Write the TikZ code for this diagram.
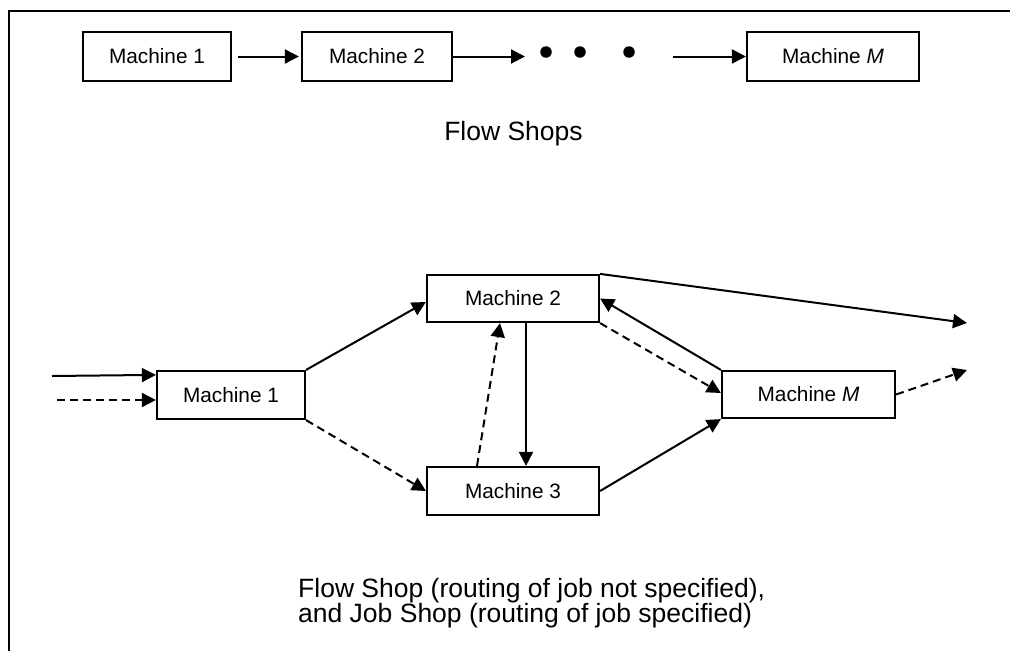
\documentclass[tikz,border=0pt]{standalone}
\usepackage{fontspec}
\setmainfont{Liberation Sans}
\usetikzlibrary{arrows.meta}

\tikzset{
  machine/.style={draw, line width=2.2pt, inner sep=0pt, fill=white,
    font=\fontsize{20.8}{24}\selectfont},
  flow/.style={line width=2pt, -{Triangle[length=14pt 0 0,width=14pt 0 0]}},
  altflow/.style={flow, dash pattern=on 8pt off 5pt},
  caption/.style={inner sep=0pt, font=\fontsize{26.5}{25}\selectfont},
  dotmark/.style={circle, fill=black, inner sep=0pt, minimum size=11.5pt},
  frameline/.style={line width=2.2pt}
}

\begin{document}
\begin{tikzpicture}[x=1pt, y=-1pt]
  \useasboundingbox (0,0) rectangle (1010,651);

  % outer frame (left and top edges)
  \draw[frameline] (9,651) -- (9,11) -- (1010,11);

  % ---- flow shop: machines in series ----
  \node[machine, minimum width=148pt, minimum height=49pt] (t1) at (157,56.5) {Machine 1};
  \node[machine, minimum width=150pt, minimum height=49pt] (t2) at (377,56.5) {Machine 2};
  \node[machine, minimum width=172pt, minimum height=49pt] (tM) at (833,56.5) {Machine \textit{M}};

  \node[dotmark] (d1) at (546,52) {};
  \node[dotmark] (d2) at (580,52) {};
  \node[dotmark] (d3) at (629,52) {};

  \coordinate (dotsIn) at (525,56.5);
  \coordinate (dotsOut) at (673,56.5);

  \draw[flow, shorten >=2pt] ([xshift=6pt]t1.east) -- (t2.west);
  \draw[flow] (t2.east) -- (dotsIn);
  \draw[flow] (dotsOut) -- (tM.west);

  \node[caption, anchor=base] (cap1) at (513.5,140) {Flow Shops};

  % ---- job shop: general routing ----
  \node[machine, minimum width=148pt, minimum height=48pt] (m1) at (231,395) {Machine 1};
  \node[machine, minimum width=172pt, minimum height=47pt] (m2) at (513,298.5) {Machine 2};
  \node[machine, minimum width=172pt, minimum height=48pt] (m3) at (513,491) {Machine 3};
  \node[machine, minimum width=173pt, minimum height=47pt] (mM) at (808.5,394.5) {Machine \textit{M}};

  \coordinate (inA) at (52,376);
  \coordinate (inB) at (57,400);
  \coordinate (outA) at (967,323);
  \coordinate (outB) at (967,370);

  % incoming jobs
  \draw[flow] (inA) -- ([yshift=-5pt]m1.north west);
  \draw[altflow] (inB) -- ([yshift=-5pt]m1.west);

  % solid route
  \draw[flow] (m1.north east) -- ([yshift=-3.5pt]m2.west);
  \draw[flow] ([xshift=13pt]m2.south) -- ([xshift=13pt]m3.north);
  \draw[flow] (m3.east) -- (mM.south west);
  \draw[flow] (mM.north west) -- (m2.east);
  \draw[flow] (m2.north east) -- (outA);

  % dashed route
  \draw[altflow] (m1.south east) -- (m3.west);
  \draw[altflow] ([xshift=-36pt]m3.north) -- ([xshift=-13pt]m2.south);
  \draw[altflow] (m2.south east) -- ([yshift=1.5pt]mM.west);
  \draw[altflow] (mM.east) -- (outB);

  \node[caption, anchor=base west] (cap2) at (298,597) {Flow Shop (routing of job not specified),};
  \node[caption, anchor=base west] (cap3) at (298,622) {and Job Shop (routing of job specified)};
\end{tikzpicture}
\end{document}
